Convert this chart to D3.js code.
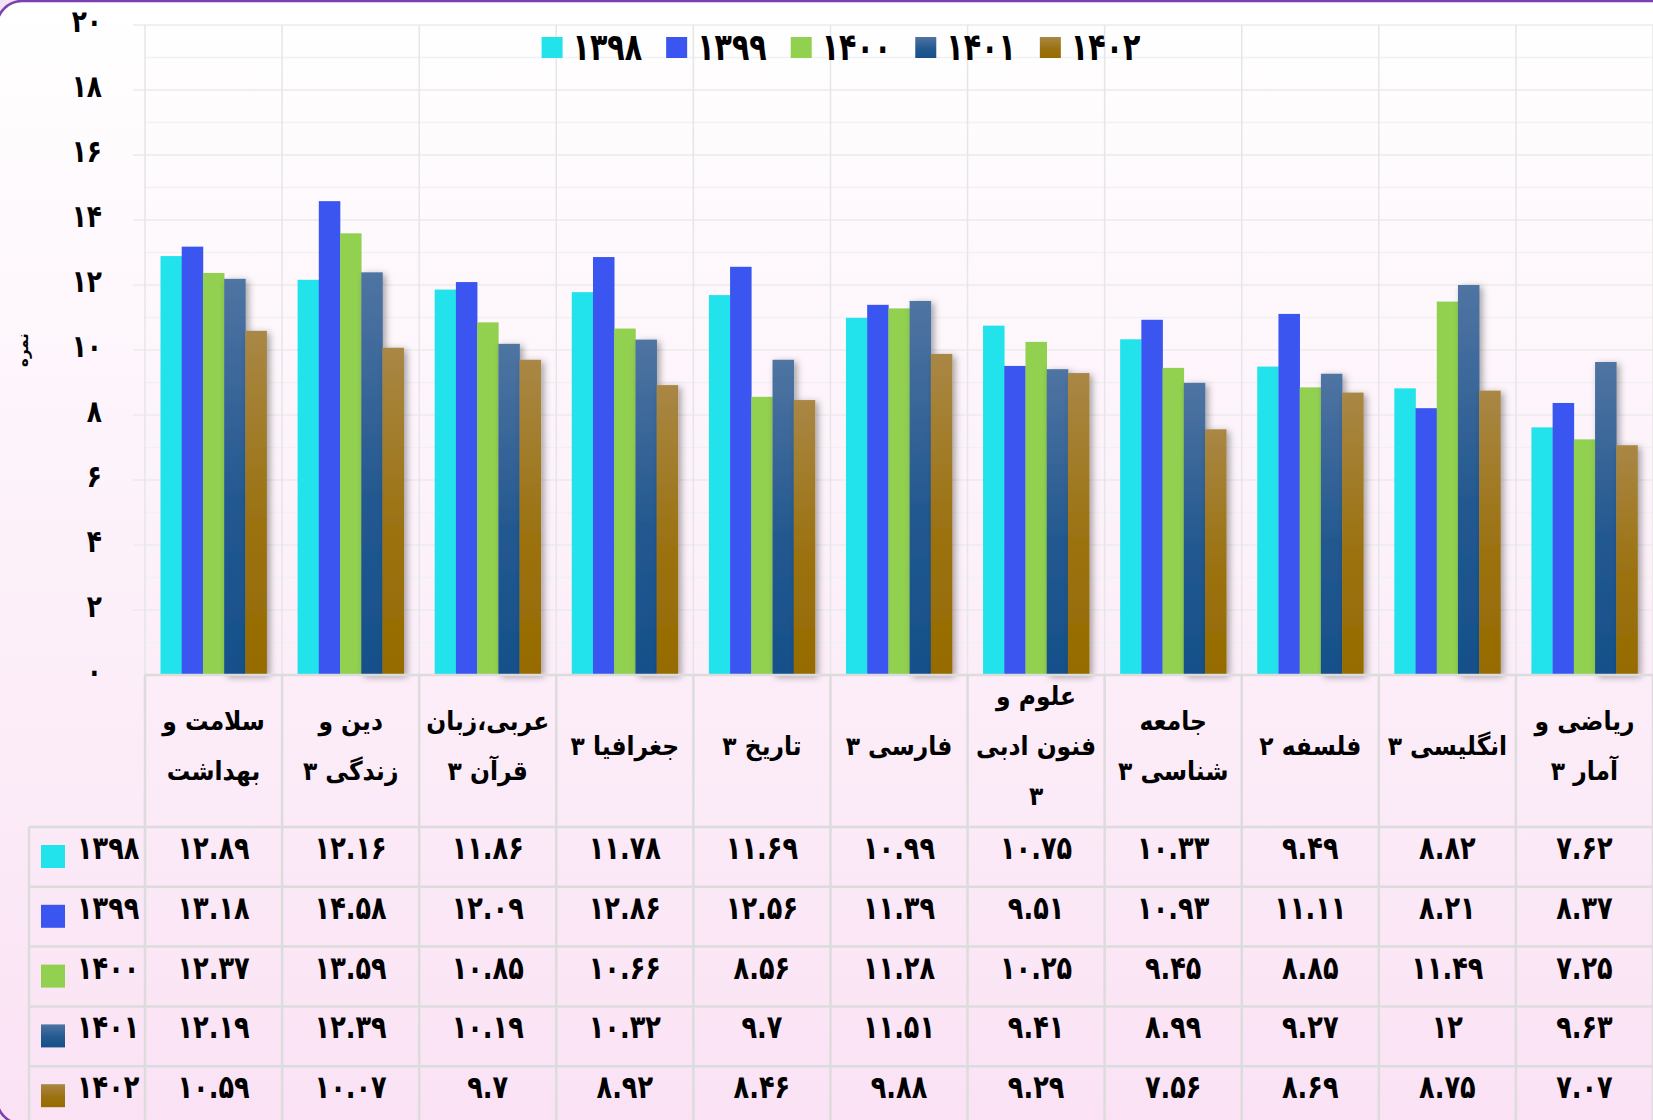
<!DOCTYPE html>
<html>
<head>
<meta charset="utf-8">
<script src="https://cdn.jsdelivr.net/npm/d3@7"></script>
<style>
  body { margin: 0; background: #f1e4f4; }
  svg { display: block; }
  text { font-family: "DejaVu Sans", sans-serif; font-weight: bold; fill: #000; }
</style>
</head>
<body>
<div id="chart"></div>
<script>
// subjects, left to right, with the line breaks used in the table header
var categories = [
  ["سلامت و", "بهداشت"],
  ["دین و", "زندگی ۳"],
  ["عربی،زبان", "قرآن ۳"],
  ["جغرافیا ۳"],
  ["تاریخ ۳"],
  ["فارسی ۳"],
  ["علوم و", "فنون ادبی", "۳"],
  ["جامعه", "شناسی ۳"],
  ["فلسفه ۲"],
  ["انگلیسی ۳"],
  ["ریاضی و", "آمار ۳"]
];
var years = ["1398", "1399", "1400", "1401", "1402"];

var v1398 = [12.89, 12.16, 11.86, 11.78, 11.69, 10.99, 10.75, 10.33, 9.49, 8.82, 7.62];
var v1399 = [13.18, 14.58, 12.09, 12.86, 12.56, 11.39, 9.51, 10.93, 11.11, 8.21, 8.37];
var v1400 = [12.37, 13.59, 10.85, 10.66, 8.56, 11.28, 10.25, 9.45, 8.85, 11.49, 7.25];
var v1401 = [12.19, 12.39, 10.19, 10.32, 9.7, 11.51, 9.41, 8.99, 9.27, 12, 9.63];
var v1402 = [10.59, 10.07, 9.7, 8.92, 8.46, 9.88, 9.29, 7.56, 8.69, 8.75, 7.07];
var series = [v1398, v1399, v1400, v1401, v1402];

var yTicks = [0, 2, 4, 6, 8, 10, 12, 14, 16, 18, 20];
var yTitle = "نمره";

// Persian digits
var faDigits = "۰۱۲۳۴۵۶۷۸۹";
function toFa(v) {
  return String(v).replace(/[0-9]/g, function(d) { return faDigits[+d]; });
}

var svgWidth = 1653;
var svgHeight = 1120;
var plot = { left: 145, right: 1653, top: 25, bottom: 675 };
var headerBottom = 827;
var rowHeight = 59.8;
var squeeze = 0.8;   // narrows the wide DejaVu digits a bit

var svg = d3.select("#chart").append("svg")
  .attr("width", svgWidth)
  .attr("height", svgHeight);

var defs = svg.append("defs");

var bg = defs.append("linearGradient").attr("id", "bg")
  .attr("x1", 0).attr("y1", 0).attr("x2", 0).attr("y2", 1);
bg.append("stop").attr("offset", "0%").attr("stop-color", "#ffffff");
bg.append("stop").attr("offset", "100%").attr("stop-color", "#fae2f4");

// flat colours for the first three years, gradients for the last two
var fills = ["#22e3ec", "#3b55f0", "#92d050", "url(#g1401)", "url(#g1402)"];
[["g1401", "#4f74a2", "#15508a"], ["g1402", "#a98745", "#966b00"]].forEach(function(g) {
  var lg = defs.append("linearGradient").attr("id", g[0])
    .attr("x1", 0).attr("y1", 0).attr("x2", 0).attr("y2", 1);
  lg.append("stop").attr("offset", "0%").attr("stop-color", g[1]);
  lg.append("stop").attr("offset", "55%").attr("stop-color", d3.interpolateRgb(g[1], g[2])(0.75));
  lg.append("stop").attr("offset", "100%").attr("stop-color", g[2]);
});

defs.append("filter").attr("id", "shadow")
  .attr("x", "-30%").attr("y", "-10%").attr("width", "180%").attr("height", "130%")
  .append("feDropShadow")
  .attr("dx", 3).attr("dy", 2).attr("stdDeviation", 3.5)
  .attr("flood-color", "#000").attr("flood-opacity", 0.35);

// frame
svg.append("rect")
  .attr("x", -3).attr("y", 1)
  .attr("width", 1720).attr("height", 1123)
  .attr("rx", 25)
  .attr("fill", "url(#bg)")
  .attr("stroke", "#7e3fb3")
  .attr("stroke-width", 2.5);

// scales
var x = d3.scaleBand()
  .domain(d3.range(categories.length))
  .range([plot.left, plot.right])
  .padding(0);

var xInner = d3.scaleBand()
  .domain(d3.range(years.length))
  .range([0, x.bandwidth()])
  .paddingInner(0)
  .paddingOuter(0.73);

var y = d3.scaleLinear().domain([0, 20]).range([plot.bottom, plot.top]);

// horizontal grid, one line per unit
svg.append("g")
  .selectAll("line")
  .data(d3.range(1, 21))
  .enter()
  .append("line")
  .attr("x1", function(d) { return d % 2 === 0 ? plot.left - 12 : plot.left; })
  .attr("x2", plot.right)
  .attr("y1", function(d) { return y(d); })
  .attr("y2", function(d) { return y(d); })
  .attr("stroke", function(d) { return d % 2 === 0 ? "#ebebeb" : "#f1f1f1"; })
  .attr("stroke-width", 1.5);

// vertical lines at category boundaries
svg.append("g")
  .selectAll("line")
  .data(d3.range(categories.length + 1))
  .enter()
  .append("line")
  .attr("x1", function(i) { return plot.left + i * x.step(); })
  .attr("x2", function(i) { return plot.left + i * x.step(); })
  .attr("y1", plot.top)
  .attr("y2", plot.bottom)
  .attr("stroke", "#e6e6e6")
  .attr("stroke-width", 1.5);

// y axis labels
var leftAxis = d3.axisLeft(y).tickValues(yTicks).tickSize(0).tickPadding(0).tickFormat(toFa);
var yAxisG = svg.append("g")
  .attr("transform", "translate(102,0)")
  .call(leftAxis);
yAxisG.select(".domain").remove();
yAxisG.selectAll("text")
  .attr("font-size", 31)
  .attr("dy", "0.2em")
  .attr("transform", "scale(" + squeeze + ",1)")
  .style("font-family", "DejaVu Sans")
  .style("font-weight", "bold")
  .attr("fill", "#000");

svg.append("text")
  .attr("transform", "translate(28,350) rotate(-90)")
  .attr("text-anchor", "middle")
  .attr("font-size", 15)
  .text(yTitle);

// bars
var groups = svg.append("g")
  .selectAll("g")
  .data(series)
  .enter()
  .append("g")
  .attr("fill", function(d, s) { return fills[s]; })
  .attr("filter", function(d, s) { return s >= 3 ? "url(#shadow)" : null; });

groups.each(function(vals, s) {
  d3.select(this).selectAll("rect")
    .data(vals)
    .enter()
    .append("rect")
    .attr("x", function(v, i) { return x(i) + xInner(s); })
    .attr("width", xInner.bandwidth() + 0.3)
    .attr("y", function(v) { return y(v); })
    .attr("height", function(v) { return y(0) - y(v); });
});

// data table
var table = svg.append("g");
var lineColor = "#dcdcdc";
var tableBottom = headerBottom + rowHeight * years.length;

table.append("line")
  .attr("x1", plot.left).attr("x2", plot.right)
  .attr("y1", plot.bottom).attr("y2", plot.bottom)
  .attr("stroke", lineColor).attr("stroke-width", 2.5);

d3.range(years.length).forEach(function(k) {
  table.append("line")
    .attr("x1", 29).attr("x2", plot.right)
    .attr("y1", headerBottom + k * rowHeight).attr("y2", headerBottom + k * rowHeight)
    .attr("stroke", lineColor).attr("stroke-width", 2.5);
});

table.append("line")
  .attr("x1", 29).attr("x2", 29)
  .attr("y1", headerBottom).attr("y2", tableBottom)
  .attr("stroke", lineColor).attr("stroke-width", 2.5);

table.selectAll(".vline")
  .data(d3.range(categories.length + 1))
  .enter()
  .append("line")
  .attr("class", "vline")
  .attr("x1", function(i) { return plot.left + i * x.step(); })
  .attr("x2", function(i) { return plot.left + i * x.step(); })
  .attr("y1", plot.bottom)
  .attr("y2", tableBottom)
  .attr("stroke", lineColor).attr("stroke-width", 2.5);

// header: subject names
var headerMid = (plot.bottom + headerBottom) / 2 - 4;
categories.forEach(function(lines, i) {
  var cx = x(i) + x.bandwidth() / 2;
  var t = table.append("text")
    .attr("transform", "translate(" + cx + "," + headerMid + ") scale(0.9,1)")
    .attr("text-anchor", "middle")
    .attr("direction", "rtl")
    .attr("font-size", 26);
  lines.forEach(function(line, j) {
    t.append("tspan")
      .attr("x", 0)
      .attr("y", (j - (lines.length - 1) / 2) * 50 + 8)
      .text(line);
  });
});

// rows: legend key + values
years.forEach(function(yr, k) {
  var top = headerBottom + k * rowHeight;
  table.append("rect")
    .attr("x", 41).attr("y", top + 18)
    .attr("width", 24).attr("height", 23)
    .attr("fill", fills[k]);
  table.append("text")
    .attr("transform", "translate(77," + (top + 32) + ") scale(" + squeeze + ",1)")
    .attr("font-size", 32)
    .text(toFa(yr));
  table.selectAll(".val" + k)
    .data(series[k])
    .enter()
    .append("text")
    .attr("class", "val" + k)
    .attr("transform", function(v, i) {
      return "translate(" + (x(i) + x.bandwidth() / 2) + "," + (top + 32) + ") scale(" + squeeze + ",1)";
    })
    .attr("text-anchor", "middle")
    .attr("font-size", 32)
    .text(function(v) { return toFa(v); });
});

// legend on top
var legend = svg.append("g");
var lx = 0;
years.forEach(function(yr, k) {
  var item = legend.append("g").attr("transform", "translate(" + lx + ",0)");
  item.append("rect")
    .attr("x", 0).attr("y", 37)
    .attr("width", 21).attr("height", 21)
    .attr("fill", fills[k]);
  var t = item.append("text")
    .attr("transform", "translate(31,60) scale(0.75,1)")
    .attr("font-size", 38)
    .text(toFa(yr));
  lx += 31 + t.node().getComputedTextLength() * 0.75 + 24;
});
var legendWidth = lx - 24;
legend.attr("transform", "translate(" + (841 - legendWidth / 2) + ",0)");
</script>
</body>
</html>
